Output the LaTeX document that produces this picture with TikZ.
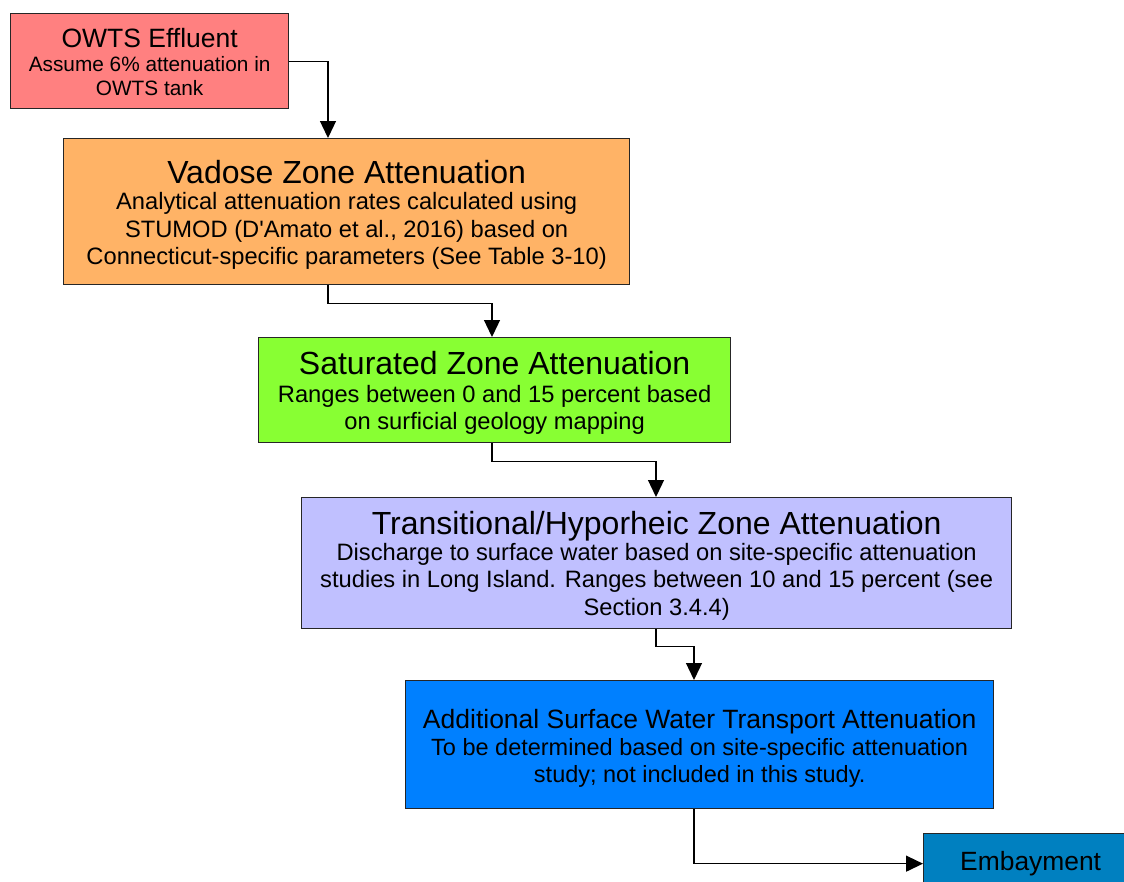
\documentclass[tikz,border=0pt]{standalone}
\usepackage{fontspec}
\setmainfont{Liberation Sans}
\usetikzlibrary{arrows.meta}
\definecolor{owtsc}{HTML}{FF8080}
\definecolor{vadc}{HTML}{FFB366}
\definecolor{satc}{HTML}{88FF33}
\definecolor{tranc}{HTML}{C0C0FF}
\definecolor{addc}{HTML}{0080FF}
\definecolor{embc}{HTML}{0080C0}
\newcommand{\ttl}[1]{{\fontsize{32}{32}\selectfont #1}}
\newcommand{\mttl}[1]{{\fontsize{26.5}{28}\selectfont #1}}
\begin{document}
\begin{tikzpicture}[x=1pt,y=-1pt,
  box/.style={draw=black!85, line width=1.3pt, inner sep=0pt, align=center, anchor=north west},
  conn/.style={draw=black, line width=1.3pt, -{Triangle[length=17pt,width=16pt]}}]
\useasboundingbox (0,0) rectangle (1124,881);
\clip (0,0) rectangle (1124,881);
\node[box, fill=owtsc, minimum width=278pt, minimum height=95pt, font=\fontsize{20.8}{24}\selectfont] (owts) at (10,13)
  {\rule{0pt}{21pt}\mttl{OWTS Effluent}\\Assume 6\% attenuation in\\OWTS tank};
\node[box, fill=vadc, minimum width=566pt, minimum height=146pt, font=\fontsize{23.7}{27.5}\selectfont] (vad) at (63,138)
  {\rule{0pt}{30pt}\ttl{Vadose Zone Attenuation}\\[-1pt]Analytical attenuation rates calculated using\\STUMOD (D\textquotesingle Amato et al., 2016) based on\\Connecticut-specific parameters (See Table 3-10)};
\node[box, fill=satc, minimum width=472pt, minimum height=105pt, font=\fontsize{23.7}{27.5}\selectfont] (sat) at (258,337)
  {\rule{0pt}{29pt}\ttl{Saturated Zone Attenuation}\\Ranges between 0 and 15 percent based\\on surficial geology mapping};
\node[box, fill=tranc, minimum width=710pt, minimum height=131pt, font=\fontsize{23.7}{27.5}\selectfont] (tran) at (301,497)
  {\rule{0pt}{29pt}\ttl{Transitional/Hyporheic Zone Attenuation}\\[-2pt]Discharge to surface water based on site-specific attenuation\\studies in Long Island. Ranges between 10 and 15 percent (see\\Section 3.4.4)};
\node[box, fill=addc, minimum width=588pt, minimum height=128pt, font=\fontsize{23.5}{27}\selectfont] (add) at (405,680)
  {\rule{0pt}{27pt}\mttl{Additional Surface Water Transport Attenuation}\\To be determined based on site-specific attenuation\\study; not included in this study.};
\node[box, fill=embc, minimum width=214pt, minimum height=60pt, font=\fontsize{26.4}{28}\selectfont] (emb) at (923,833)
  {Embayment};
\draw[conn] (owts.east) -| ([xshift=265pt]vad.north west);
\draw[conn] ([xshift=265pt]vad.south west) -- ++(0,18) -| ([xshift=234pt]sat.north west);
\draw[conn] ([xshift=234pt]sat.south west) -- ++(0,18) -| ([xshift=355pt]tran.north west);
\draw[conn] ([xshift=355pt]tran.south west) -- ++(0,17) -| ([xshift=289pt]add.north west);
\draw[conn] ([xshift=289pt]add.south west) |- (emb.west);
\end{tikzpicture}
\end{document}
